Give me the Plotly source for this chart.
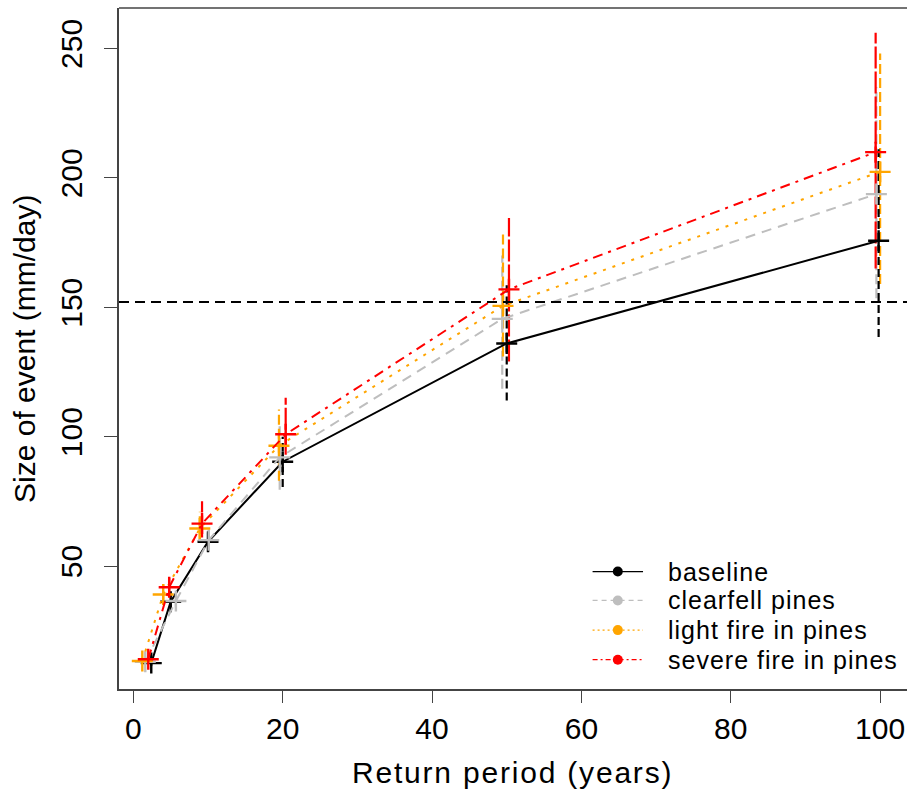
import plotly.graph_objects as go

# Return periods (years) and design storm sizes (mm/day) for each land-cover scenario
series_names = ["baseline", "clearfell pines", "light fire in pines", "severe fire in pines"]

baseline_x = [2.4, 5.0, 10.0, 20.0, 50.0, 99.8]
baseline_y = [12.5, 36.2, 59.4, 90.3, 136.0, 175.7]
baseline_lo = [11.5, 33.5, 55.5, 80.5, 114.0, 138.5]
baseline_hi = [13.5, 39.0, 63.0, 100.0, 158.5, 211.0]

clearfell_x = [1.6, 5.7, 10.1, 19.6, 49.4, 99.5]
clearfell_y = [13.0, 36.5, 60.0, 92.0, 145.5, 193.7]
clearfell_lo = [12.0, 34.0, 56.0, 79.5, 118.5, 153.5]
clearfell_hi = [14.0, 39.5, 64.0, 104.0, 170.0, 235.0]

light_x = [1.2, 4.0, 8.9, 19.5, 49.5, 100.0]
light_y = [13.3, 39.0, 64.5, 96.5, 150.5, 202.3]
light_lo = [12.5, 36.0, 60.0, 83.0, 131.0, 159.0]
light_hi = [14.5, 43.0, 71.0, 110.5, 178.5, 248.0]

severe_x = [2.0, 4.8, 9.2, 20.4, 50.3, 99.4]
severe_y = [14.0, 41.8, 66.4, 100.9, 156.9, 209.9]
severe_lo = [12.5, 38.0, 61.0, 93.0, 129.0, 165.0]
severe_hi = [15.5, 45.5, 75.0, 115.0, 184.5, 256.0]

threshold = 152.0

x_ticks = [0, 20, 40, 60, 80, 100]
y_ticks = [50, 100, 150, 200, 250]

FONT = "Liberation Sans, Arial, sans-serif"

styles = [
    dict(color="#000000", dash="solid", bar_dash="8px,4px", leg_dash="solid"),
    dict(color="#BEBEBE", dash="10px,7px", bar_dash="10px,4px", leg_dash="5px,4px"),
    dict(color="#FFA500", dash="3px,7px", bar_dash="10px,4px", leg_dash="2px,3px"),
    dict(color="#FF0000", dash="10px,6px,3px,6px", bar_dash="22px,3px", leg_dash="5px,3px,2px,3px"),
]
data = [
    (baseline_x, baseline_y, baseline_lo, baseline_hi),
    (clearfell_x, clearfell_y, clearfell_lo, clearfell_hi),
    (light_x, light_y, light_lo, light_hi),
    (severe_x, severe_y, severe_lo, severe_hi),
]


def spaced(text, px):
    return f'<span style="letter-spacing:{px}px">{text}</span>'


fig = go.Figure()

# Uncertainty bars as vertical segments (baseline drawn last, on top)
for idx in [1, 2, 3, 0]:
    xs, ys, lo, hi = data[idx]
    st = styles[idx]
    bx, by = [], []
    for x, l, h in zip(xs, lo, hi):
        bx += [x, x, None]
        by += [l, h, None]
    fig.add_trace(go.Scatter(x=bx, y=by, mode="lines", showlegend=False,
                             line=dict(color=st["color"], width=2.2, dash=st["bar_dash"]),
                             hoverinfo="skip"))

# Scenario curves with cross markers
for (xs, ys, lo, hi), st, name in zip(data, styles, series_names):
    fig.add_trace(go.Scatter(x=xs, y=ys, mode="lines+markers", name=name, showlegend=False,
                             line=dict(color=st["color"], width=2, dash=st["dash"]),
                             marker=dict(symbol="cross-thin", size=15,
                                         line=dict(color=st["color"], width=2.4))))

# Threshold line
fig.add_shape(type="line", xref="paper", x0=0, x1=1, yref="y", y0=threshold, y1=threshold,
              line=dict(color="#000000", width=2, dash="10px,6px"))

# Top edge of the plot frame
fig.add_shape(type="line", xref="paper", yref="paper", x0=0, x1=1, y0=1, y1=1,
              line=dict(color="#444444", width=1.5))

# Legend drawn in paper space
leg_x0, leg_x1, leg_xm, leg_text = 0.601, 0.665, 0.633, 0.694
leg_rows = [0.1725, 0.130, 0.0865, 0.043]
for name, st, yr in zip(series_names, styles, leg_rows):
    fig.add_shape(type="line", xref="paper", yref="paper", x0=leg_x0, x1=leg_x1, y0=yr, y1=yr,
                  line=dict(color=st["color"], width=1.3, dash=st["leg_dash"]))
    fig.add_shape(type="circle", xref="paper", yref="paper", xsizemode="pixel", ysizemode="pixel",
                  xanchor=leg_xm, yanchor=yr, x0=-5, x1=5, y0=-5, y1=5,
                  line=dict(color=st["color"], width=0), fillcolor=st["color"])
    fig.add_annotation(x=leg_text, y=yr, xref="paper", yref="paper", text=spaced(name, 1),
                       showarrow=False, xanchor="left", yanchor="middle",
                       font=dict(family=FONT, size=25, color="#000"))

# Axis titles
fig.add_annotation(x=0.4995, y=-0.1219, xref="paper", yref="paper",
                   text=spaced("Return period (years)", 1.8),
                   showarrow=False, xanchor="center", yanchor="middle",
                   font=dict(family=FONT, size=30, color="#000"))
fig.add_annotation(x=-0.1193, y=0.4993, xref="paper", yref="paper", text="Size of event (mm/day)",
                   showarrow=False, xanchor="center", yanchor="middle", textangle=-90,
                   font=dict(family=FONT, size=30, color="#000"))

fig.update_layout(
    width=907, height=794,
    margin=dict(l=119, r=0, t=8, b=105),
    paper_bgcolor="white", plot_bgcolor="white",
    showlegend=False,
    font=dict(family=FONT, size=30, color="#000"),
    xaxis=dict(range=[-1.92, 103.6], tickvals=x_ticks, ticks="outside", ticklen=12,
               tickwidth=1.3, tickcolor="#444", showline=True, linecolor="#444", linewidth=1.5,
               showgrid=False, zeroline=False, tickfont=dict(size=30)),
    yaxis=dict(range=[2.5, 265.6], tickvals=y_ticks, ticks="outside", ticklen=13,
               tickwidth=1.3, tickcolor="#444", showline=True, linecolor="#444", linewidth=1.5,
               showgrid=False, zeroline=False, tickangle=-90, tickfont=dict(size=30),
               ticklabelstandoff=10),
)

fig.write_html("out.html")
